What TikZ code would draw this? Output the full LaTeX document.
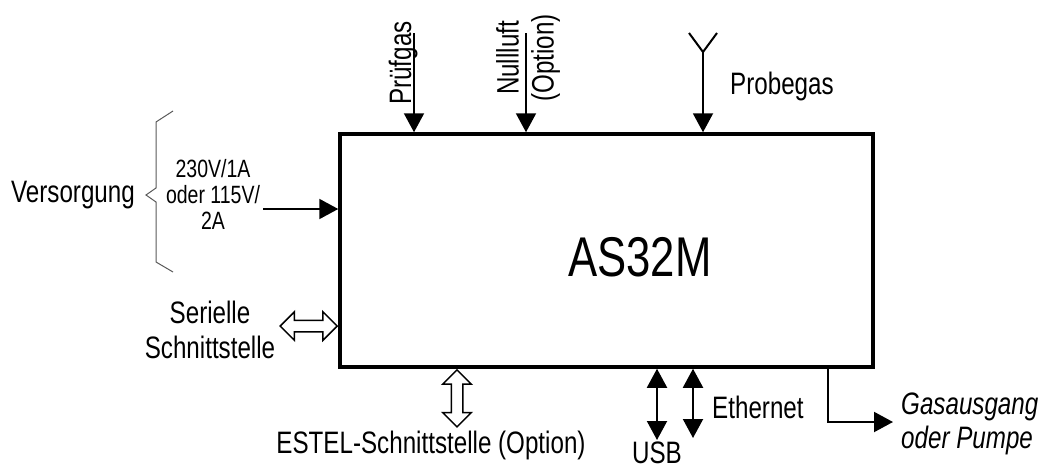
\documentclass[tikz,border=0pt]{standalone}
\usepackage{fontspec}
\setmainfont{Liberation Sans}[FakeStretch=0.78]
\usetikzlibrary{arrows.meta,positioning,shapes.arrows}

\begin{document}
\begin{tikzpicture}[
    x=1pt, y=-1pt,
    box/.style={rectangle,draw,line width=3.5pt,minimum width=533pt,minimum height=233pt},
    txt/.style={inner sep=0pt,font=\fontsize{31}{35}\selectfont},
    small/.style={inner sep=0pt,font=\fontsize{25}{26}\selectfont},
    feed/.style={-{Triangle[width=20pt,length=19pt]},line width=2pt},
    bidir/.style={{Triangle[width=20pt,length=19pt]}-{Triangle[width=20pt,length=19pt]},line width=2pt},
    port/.style={double arrow,draw,fill=white,line width=1.5pt,inner xsep=0pt,inner ysep=5pt,
      minimum height=57pt,double arrow head extend=8.5pt},
  ]
  \useasboundingbox (0,0) rectangle (1054,471);
  % Device
  \node[box] (as) at (606.5,250.5) {};
  \node[inner sep=0pt,font=\fontsize{56}{60}\selectfont] (asname) at (640,257) {AS32M};
  % Gas inputs
  \coordinate (pgtop) at (414,33);
  \coordinate (nltop) at (526,33);
  \coordinate (pbfork) at (703,52);
  \node[txt,rotate=90,anchor=base] (pglbl) at (411,63) {Prüfgas};
  \node[txt,rotate=90,align=center] (nllbl) at (528,58) {Nullluft\\(Option)};
  \node[txt,anchor=base west] (pblbl) at (730,94) {Probegas};
  \draw[feed] (pgtop) -- (pgtop |- as.north);
  \draw[feed] (nltop) -- (nltop |- as.north);
  \draw[feed] (pbfork) -- (pbfork |- as.north);
  \draw[line width=2pt] (689,33) -- (pbfork) -- (717,33);
  % Supply
  \node[txt,anchor=base east] (vslbl) at (135,202) {Versorgung};
  \node[small,align=center] (vsval) at (213,194) {230V/1A\\oder 115V/\\2A};
  \draw[gray!70!black,line width=1pt] (173,111) -- (156,122) -- (156,188) -- (146,195)
    -- (156,202) -- (156,262) -- (173,272);
  \coordinate (vsin) at (263,209);
  \draw[feed] (vsin) -- (vsin -| as.west);
  % Serial interface
  \node[txt,align=center] (serlbl) at (210,330) {Serielle\\Schnittstelle};
  \coordinate (serpos) at (0,326);
  \node[port,anchor=east] (serport) at (as.west |- serpos) {};
  % Bottom interfaces
  \coordinate (estpos) at (457,0);
  \node[port,rotate=90,anchor=east] (estport) at (as.south -| estpos) {};
  \node[txt,anchor=base] (estlbl) at (431,453) {ESTEL-Schnittstelle (Option)};
  \coordinate (usbend) at (657,440);
  \coordinate (ethend) at (693,438);
  \draw[bidir] (usbend |- as.south) -- (usbend);
  \draw[bidir] (ethend |- as.south) -- (ethend);
  \node[txt,anchor=base] (usblbl) at (657,463) {USB};
  \node[txt,anchor=base west] (ethlbl) at (712,418) {Ethernet};
  % Gas outlet
  \coordinate (gasx) at (828,0);
  \coordinate (gasend) at (893,422);
  \draw[feed] (as.south -| gasx) |- (gasend);
  \node[txt,align=left,anchor=west,font=\fontsize{31}{34}\selectfont\itshape] (gaslbl) at (901,424) {Gasausgang\\oder Pumpe};
\end{tikzpicture}
\end{document}
